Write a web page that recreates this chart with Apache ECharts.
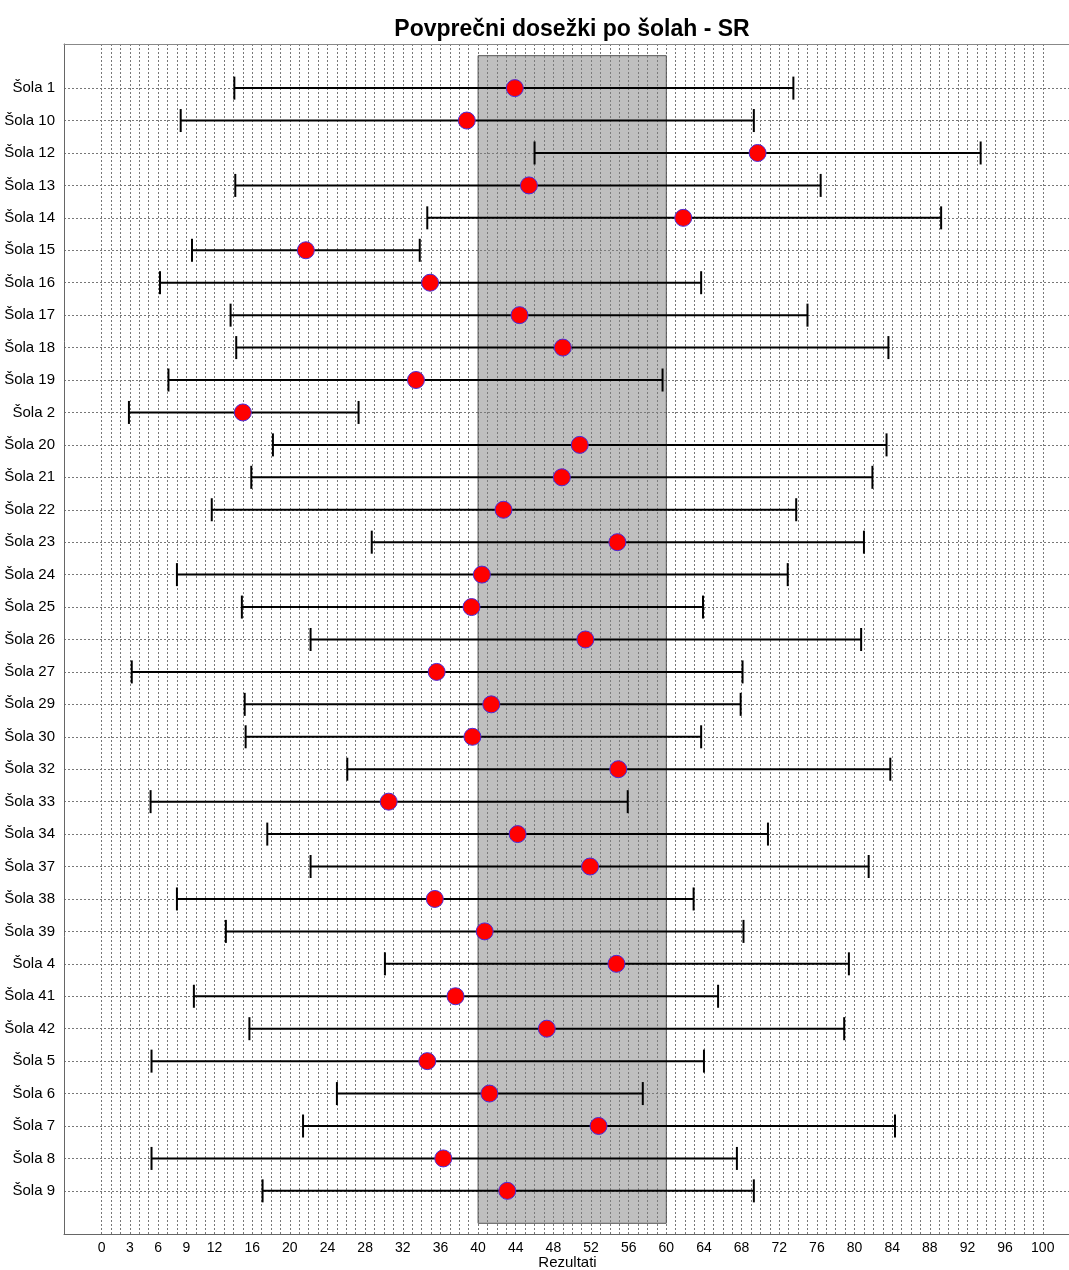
<!DOCTYPE html>
<html>
<head>
<meta charset="utf-8">
<script src="https://cdn.jsdelivr.net/npm/echarts@6/dist/echarts.min.js"></script>
<style>html,body{margin:0;padding:0;background:#fff}#c{width:1069px;height:1270px}</style>
</head>
<body>
<div id="c"></div>
<script>
const schools = ['Šola 1','Šola 10','Šola 12','Šola 13','Šola 14','Šola 15','Šola 16','Šola 17','Šola 18','Šola 19','Šola 2','Šola 20','Šola 21','Šola 22','Šola 23','Šola 24','Šola 25','Šola 26','Šola 27','Šola 29','Šola 30','Šola 32','Šola 33','Šola 34','Šola 37','Šola 38','Šola 39','Šola 4','Šola 41','Šola 42','Šola 5','Šola 6','Šola 7','Šola 8','Šola 9'];
const means = [43.9,38.8,69.7,45.4,61.8,21.7,34.9,44.4,49.0,33.4,15.0,50.8,48.9,42.7,54.8,40.4,39.3,51.4,35.6,41.4,39.4,54.9,30.5,44.2,51.9,35.4,40.7,54.7,37.6,47.3,34.6,41.2,52.8,36.3,43.1];
const lows  = [14.1,8.4,46.0,14.2,34.6,9.6,6.2,13.7,14.3,7.1,2.9,18.2,15.9,11.7,28.7,8.0,14.9,22.2,3.2,15.2,15.3,26.1,5.2,17.6,22.2,8.0,13.2,30.1,9.8,15.7,5.3,25.0,21.4,5.3,17.1];
const highs = [73.5,69.3,93.4,76.4,89.2,33.8,63.7,75.0,83.6,59.6,27.3,83.4,81.9,73.8,81.0,72.9,63.9,80.7,68.1,67.9,63.7,83.8,55.9,70.8,81.5,62.9,68.2,79.4,65.5,78.9,64.0,57.5,84.3,67.5,69.3];
const xLabels = [0,3,6,9,12,16,20,24,28,32,36,40,44,48,52,56,60,64,68,72,76,80,84,88,92,96,100];
const bandRange = [40, 60];

const yIdx = schools.map((s, i) => i);
const n = schools.length;

// layout
const GL = 64, GW = 1007, XMIN = -4, XMAX = 103, GT = 44, GB = 36;
const unit = GW / (XMAX - XMIN);
const font = 'Liberation Sans, Arial, sans-serif';
const dotted = {type: [2, 2], color: '#777', width: 1};

const chart = echarts.init(document.getElementById('c'), null, {renderer: 'canvas'});
chart.setOption({
  animation: false,
  title: {
    text: 'Povprečni dosežki po šolah - SR',
    left: 567, textAlign: 'center', top: 13,
    textStyle: {fontFamily: font, fontSize: 23, fontWeight: 'bold', color: '#000'}
  },
  grid: [
    {left: GL, top: GT, width: GW, bottom: GB, show: false, containLabel: false, outerBoundsMode: 'none'},
    {left: GL + (0 - XMIN) * unit, top: GT, width: 100 * unit, bottom: GB, show: false, containLabel: false, outerBoundsMode: 'none'}
  ],
  xAxis: [
    {
      type: 'value', min: XMIN, max: XMAX, gridIndex: 0, position: 'bottom',
      name: 'Rezultati', nameLocation: 'middle', nameGap: 29, nameMoveOverlap: false,
      nameTextStyle: {fontFamily: font, fontSize: 15, color: '#000', verticalAlign: 'middle'},
      axisLine: {show: true, onZero: false, lineStyle: {color: '#666', width: 1}},
      axisTick: {show: false},
      axisLabel: {customValues: xLabels, fontFamily: font, fontSize: 14, color: '#000', margin: 7},
      splitLine: {show: false}
    },
    {
      type: 'value', min: 0, max: 100, interval: 1, gridIndex: 1,
      axisLine: {show: false}, axisTick: {show: false}, axisLabel: {show: false},
      splitLine: {show: true, lineStyle: dotted}
    },
    {
      type: 'value', min: XMIN, max: XMAX, gridIndex: 0, position: 'top',
      axisLine: {show: true, onZero: false, lineStyle: {color: '#888', width: 1}},
      axisTick: {show: false}, axisLabel: {show: false}, splitLine: {show: false}
    }
  ],
  yAxis: [
    {
      type: 'value', inverse: true, min: -1.36, max: n - 1 + 1.33, gridIndex: 0, position: 'left',
      axisLine: {show: true, onZero: false, lineStyle: {color: '#666', width: 1}},
      axisTick: {show: false, customValues: yIdx},
      axisLabel: {customValues: yIdx, formatter: v => schools[Math.round(v)] || '', fontFamily: font, fontSize: 15, color: '#000', margin: 9},
      splitLine: {show: true, lineStyle: dotted}
    },
    {
      type: 'value', gridIndex: 1, show: false, min: 0, max: 1, splitLine: {show: false}
    }
  ],
  series: [
    {
      type: 'custom',
      xAxisIndex: 0, yAxisIndex: 0,
      z: 3,
      clip: false,
      data: schools.map((s, i) => [lows[i], highs[i], i]),
      encode: {x: [0, 1], y: 2},
      renderItem: function (params, api) {
        const y = api.value(2);
        const p1 = api.coord([api.value(0), y]);
        const p2 = api.coord([api.value(1), y]);
        const h = 11.5;
        const st = {stroke: '#000', lineWidth: 2};
        return {
          type: 'group',
          children: [
            {type: 'line', shape: {x1: p1[0], y1: p1[1], x2: p2[0], y2: p2[1]}, style: st},
            {type: 'line', shape: {x1: p1[0], y1: p1[1] - h, x2: p1[0], y2: p1[1] + h}, style: st},
            {type: 'line', shape: {x1: p2[0], y1: p2[1] - h, x2: p2[0], y2: p2[1] + h}, style: st}
          ]
        };
      },
      markArea: {
        silent: true,
        itemStyle: {color: 'rgba(128,128,128,0.5)', borderColor: '#555', borderWidth: 1},
        data: [[{coord: [bandRange[0], -1]}, {coord: [bandRange[1], n]}]]
      }
    },
    {
      type: 'scatter',
      xAxisIndex: 0, yAxisIndex: 0,
      z: 4,
      symbol: 'circle',
      symbolSize: 17,
      itemStyle: {color: '#ff0000', borderColor: '#4a2ad8', borderWidth: 1, opacity: 1},
      data: schools.map((s, i) => [means[i], i])
    }
  ]
});
</script>
</body>
</html>
